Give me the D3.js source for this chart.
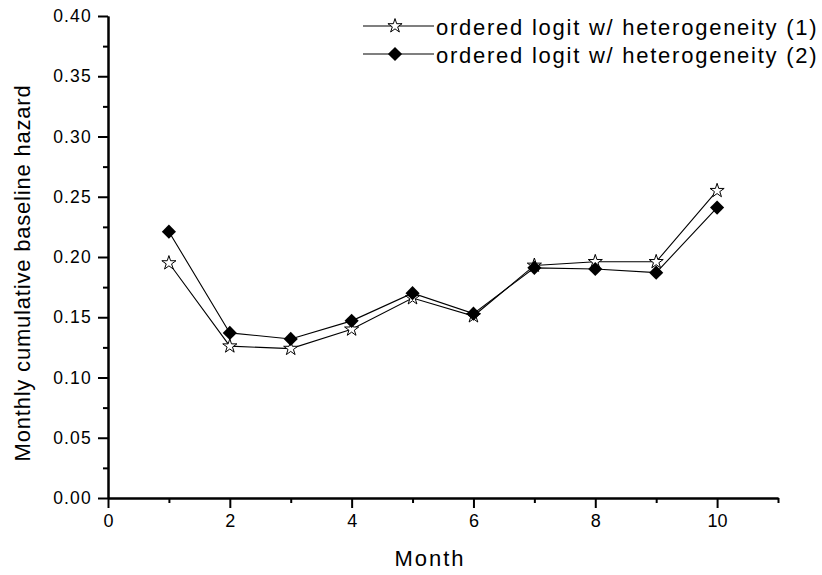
<!DOCTYPE html>
<html>
<head>
<meta charset="utf-8">
<script src="https://cdn.jsdelivr.net/npm/d3@7"></script>
<style>
  html, body { margin: 0; padding: 0; background: #fff; }
  svg { display: block; font-family: "Liberation Sans", Arial, sans-serif; }
</style>
</head>
<body>
<svg id="chart" width="822" height="575"></svg>
<script>
// Monthly cumulative baseline hazard, two ordered logit specifications
const months = [1, 2, 3, 4, 5, 6, 7, 8, 9, 10];
const hazard1 = [0.195, 0.126, 0.124, 0.140, 0.166, 0.151, 0.193, 0.196, 0.196, 0.255];
const hazard2 = [0.221, 0.137, 0.132, 0.147, 0.170, 0.153, 0.191, 0.190, 0.187, 0.241];
const seriesNames = ["ordered logit w/ heterogeneity (1)", "ordered logit w/ heterogeneity (2)"];
const xTicks = [0, 2, 4, 6, 8, 10];
const xMinor = [1, 3, 5, 7, 9, 11];
const yTicks = [0, 0.05, 0.10, 0.15, 0.20, 0.25, 0.30, 0.35, 0.40];
const yMinor = [0.025, 0.075, 0.125, 0.175, 0.225, 0.275, 0.325, 0.375];

const svg = d3.select("#chart");
const plotLeft = 108, plotRight = 778, plotTop = 16, plotBottom = 498;

const x = d3.scaleLinear().domain([0, 11]).range([plotLeft, plotRight]);
const y = d3.scaleLinear().domain([0, 0.40]).range([plotBottom, plotTop]);

// axes
const xAxis = svg.append("g").attr("transform", `translate(0,${plotBottom})`)
  .call(d3.axisBottom(x).tickValues(xTicks).tickFormat(d3.format("d")).tickSizeInner(10).tickSizeOuter(0).tickPadding(6));
const xAxisMinor = svg.append("g").attr("transform", `translate(0,${plotBottom})`)
  .call(d3.axisBottom(x).tickValues(xMinor).tickFormat("").tickSizeInner(5).tickSizeOuter(0));
const yAxis = svg.append("g").attr("transform", `translate(${plotLeft},0)`)
  .call(d3.axisLeft(y).tickValues(yTicks).tickFormat(d3.format(".2f")).tickSizeInner(10).tickSizeOuter(0).tickPadding(6));
const yAxisMinor = svg.append("g").attr("transform", `translate(${plotLeft},0)`)
  .call(d3.axisLeft(y).tickValues(yMinor).tickFormat("").tickSizeInner(5).tickSizeOuter(0));

[xAxis, xAxisMinor, yAxis, yAxisMinor].forEach(g => {
  g.select(".domain").attr("stroke", "#000").attr("stroke-width", 2);
  g.selectAll(".tick line").attr("stroke", "#000").attr("stroke-width", 2);
});
xAxis.selectAll(".tick text").attr("font-size", 18).attr("fill", "#000")
  .attr("font-family", "\"Liberation Sans\", Arial, sans-serif");
yAxis.selectAll(".tick text").attr("font-size", 17.5).attr("fill", "#000")
  .attr("letter-spacing", 1.2)
  .attr("font-family", "\"Liberation Sans\", Arial, sans-serif");

// axis titles
svg.append("text")
  .attr("x", 430).attr("y", 566)
  .attr("text-anchor", "middle").attr("font-size", 22).attr("letter-spacing", 2)
  .text("Month");
svg.append("text")
  .attr("transform", `translate(30,${(plotTop + plotBottom) / 2 + 16}) rotate(-90)`)
  .attr("text-anchor", "middle").attr("font-size", 22).attr("letter-spacing", 0.8)
  .text("Monthly cumulative baseline hazard");

// lines and markers
const line = d3.line().x(d => x(d[0])).y(d => y(d[1]));
const pts1 = months.map((m, i) => [m, hazard1[i]]);
const pts2 = months.map((m, i) => [m, hazard2[i]]);

const starPath = d3.symbol(d3.symbolStar, 62)();
const diamondPath = d3.symbol(d3.symbolSquare, 100)();

svg.append("path").datum(pts1).attr("d", line)
  .attr("fill", "none").attr("stroke", "#000").attr("stroke-width", 1.1);
svg.append("path").datum(pts2).attr("d", line)
  .attr("fill", "none").attr("stroke", "#000").attr("stroke-width", 1.1);

svg.append("g").selectAll("path").data(pts1).join("path")
  .attr("d", starPath)
  .attr("transform", d => `translate(${x(d[0])},${y(d[1])})`)
  .attr("fill", "#fff").attr("stroke", "#000").attr("stroke-width", 1);
svg.append("g").selectAll("path").data(pts2).join("path")
  .attr("d", diamondPath)
  .attr("transform", d => `translate(${x(d[0])},${y(d[1])}) rotate(45)`)
  .attr("fill", "#000");

// legend
const legend = svg.append("g").attr("transform", "translate(363,26)");
const rows = legend.selectAll("g").data(seriesNames).join("g")
  .attr("transform", (d, i) => `translate(0,${i * 28})`);
rows.append("line").attr("x1", 0).attr("x2", 71).attr("y1", 0).attr("y2", 0)
  .attr("stroke", "#000").attr("stroke-width", 1.1);
rows.append("path")
  .attr("d", (d, i) => i === 0 ? starPath : diamondPath)
  .attr("transform", (d, i) => i === 0 ? "translate(32,0)" : "translate(32,0) rotate(45)")
  .attr("fill", (d, i) => i === 0 ? "#fff" : "#000")
  .attr("stroke", (d, i) => i === 0 ? "#000" : "none");
rows.append("text")
  .attr("x", 73).attr("y", 9)
  .attr("font-size", 22).attr("letter-spacing", 1.75)
  .text(d => d);
</script>
</body>
</html>
